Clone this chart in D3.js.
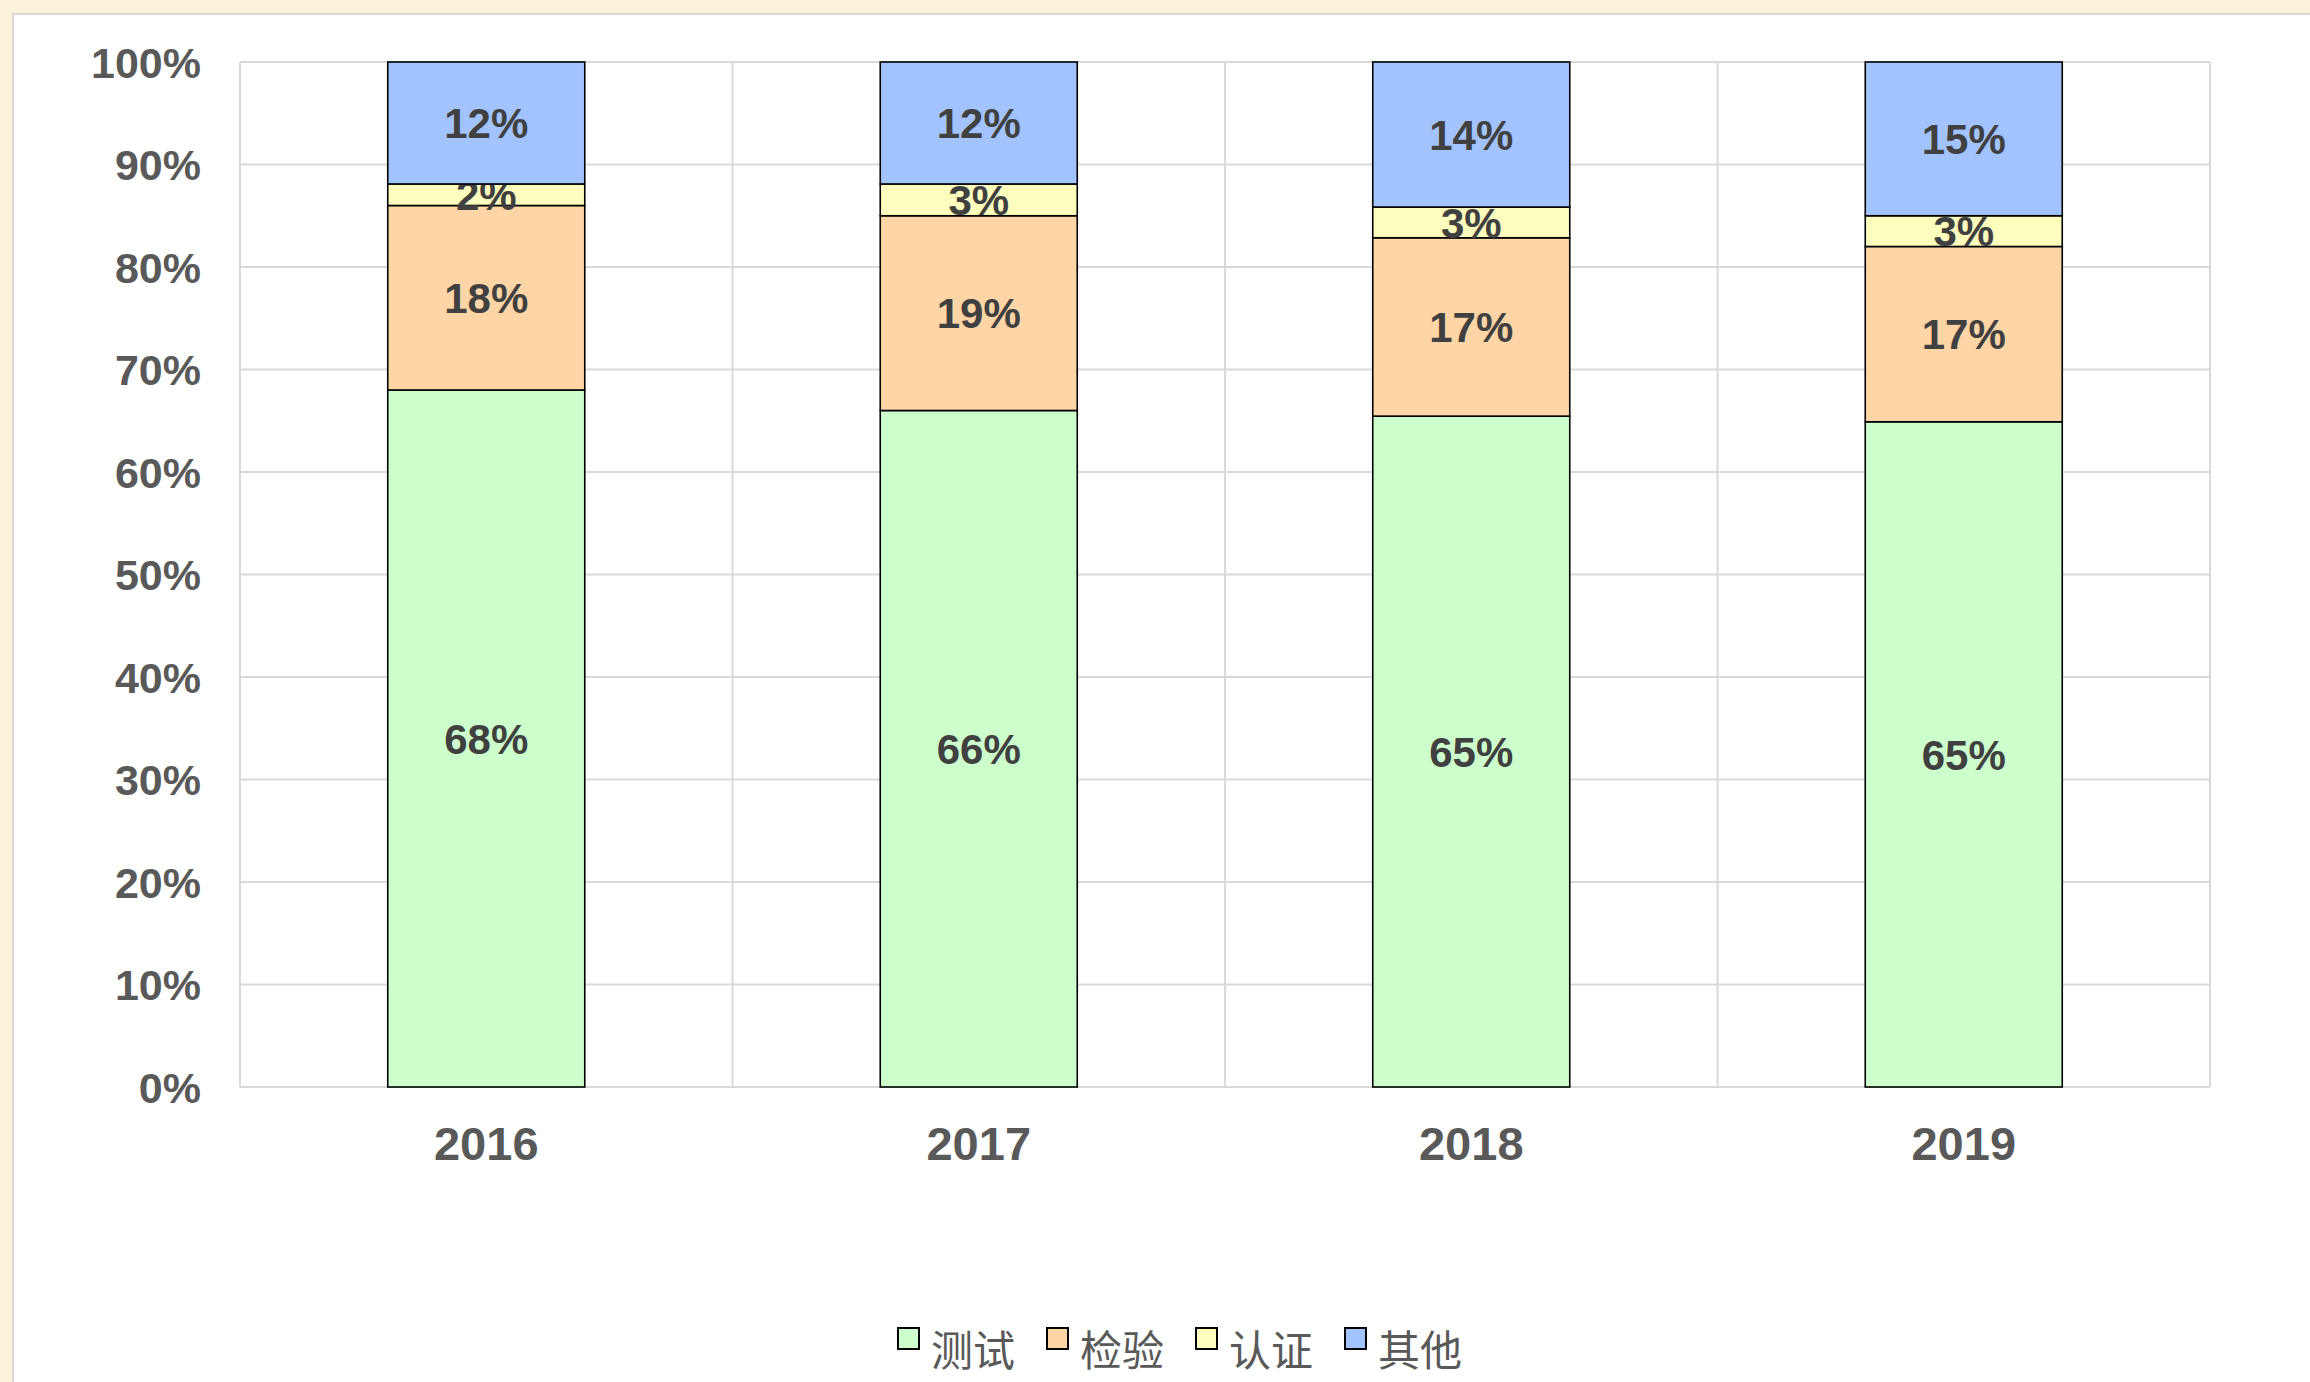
<!DOCTYPE html>
<html>
<head>
<meta charset="utf-8">
<script src="https://cdn.jsdelivr.net/npm/d3@7"></script>
<style>
  body { margin: 0; background: #fcf1d9; }
  svg { display: block; }
</style>
</head>
<body>
<script>
// data (percent of total)
const years = ["2016", "2017", "2018", "2019"];
const seriesNames = ["测试", "检验", "认证", "其他"];
const test = [68.0, 66.0, 65.45, 64.9];
const inspection = [18.0, 19.0, 17.4, 17.1];
const certification = [2.1, 3.1, 3.0, 3.0];
const other = [11.9, 11.9, 14.15, 15.0];
const yTicks = [0, 10, 20, 30, 40, 50, 60, 70, 80, 90, 100];

const colors = ["#ccffcc", "#fed5a5", "#fdfdbd", "#a2c4fe"];

const W = 2310, H = 1382;
const plot = {left: 240, top: 62, right: 2210, bottom: 1087};

const rows = years.map((y, i) => ({
    year: y,
    "测试": test[i],
    "检验": inspection[i],
    "认证": certification[i],
    "其他": other[i]
}));

const svg = d3.select("body").append("svg")
    .attr("width", W)
    .attr("height", H);

// parchment background + white panel
svg.append("rect").attr("width", W).attr("height", H).attr("fill", "#fcf1d9");
svg.append("rect")
    .attr("x", 13).attr("y", 14)
    .attr("width", W + 20).attr("height", H + 20)
    .attr("fill", "#fff")
    .attr("stroke", "#d9d9d9")
    .attr("stroke-width", 2);

const x = d3.scaleBand()
    .domain(years)
    .range([plot.left, plot.right])
    .paddingInner(0.6)
    .paddingOuter(0.3);

const y = d3.scaleLinear()
    .domain([0, 100])
    .range([plot.bottom, plot.top]);

const step = x.step();

// gridlines
const grid = svg.append("g").attr("stroke", "#d9d9d9").attr("stroke-width", 2);
grid.selectAll("line.h").data(yTicks).enter().append("line")
    .attr("x1", plot.left).attr("x2", plot.right)
    .attr("y1", d => y(d)).attr("y2", d => y(d));
grid.selectAll("line.v").data(d3.range(years.length + 1)).enter().append("line")
    .attr("x1", i => plot.left + i * step).attr("x2", i => plot.left + i * step)
    .attr("y1", plot.top).attr("y2", plot.bottom);

// y axis labels
const yAxis = d3.axisLeft(y)
    .tickValues(yTicks)
    .tickFormat(d => d + "%")
    .tickSize(0)
    .tickPadding(39);
svg.append("g")
    .attr("transform", `translate(${plot.left},0)`)
    .call(yAxis)
    .call(g => g.select(".domain").remove())
    .selectAll("text")
    .attr("font-family", "'Liberation Sans', Arial, sans-serif")
    .attr("font-weight", "bold")
    .attr("font-size", 43)
    .attr("fill", "#595959")
    .attr("dy", "0.35em");

// x axis labels
const xAxis = d3.axisBottom(x).tickSize(0).tickPadding(40);
svg.append("g")
    .attr("transform", `translate(0,${plot.bottom})`)
    .call(xAxis)
    .call(g => g.select(".domain").remove())
    .selectAll("text")
    .attr("font-family", "'Liberation Sans', Arial, sans-serif")
    .attr("font-weight", "bold")
    .attr("font-size", 47)
    .attr("fill", "#595959");

// stacked bars
const stacked = d3.stack().keys(seriesNames)(rows);

const layers = svg.selectAll("g.layer").data(stacked).enter().append("g")
    .attr("class", "layer")
    .attr("fill", (d, i) => colors[i]);

layers.selectAll("rect").data(d => d).enter().append("rect")
    .attr("x", d => x(d.data.year))
    .attr("width", x.bandwidth())
    .attr("y", d => y(d[1]))
    .attr("height", d => y(d[0]) - y(d[1]))
    .attr("stroke", "#000")
    .attr("stroke-width", 1.6);

// data labels
layers.selectAll("text").data(d => d).enter().append("text")
    .attr("x", d => x(d.data.year) + x.bandwidth() / 2)
    .attr("y", d => (y(d[0]) + y(d[1])) / 2)
    .attr("dy", "0.36em")
    .attr("text-anchor", "middle")
    .attr("font-family", "'Liberation Sans', Arial, sans-serif")
    .attr("font-weight", "bold")
    .attr("font-size", 42)
    .attr("fill", "#404040")
    .text(d => Math.round(d[1] - d[0]) + "%");

// legend
const legend = svg.append("g").attr("transform", "translate(898,1328)");
const items = legend.selectAll("g").data(seriesNames).enter().append("g")
    .attr("transform", (d, i) => `translate(${i * 149},0)`);
items.append("rect")
    .attr("width", 21).attr("height", 21)
    .attr("fill", (d, i) => colors[i])
    .attr("stroke", "#000")
    .attr("stroke-width", 2);
items.append("text")
    .attr("x", 33)
    .attr("y", 38)
    .attr("font-family", "'Noto Sans CJK SC', sans-serif")
    .attr("font-size", 42)
    .attr("fill", "#595959")
    .text(d => d);
</script>
</body>
</html>
